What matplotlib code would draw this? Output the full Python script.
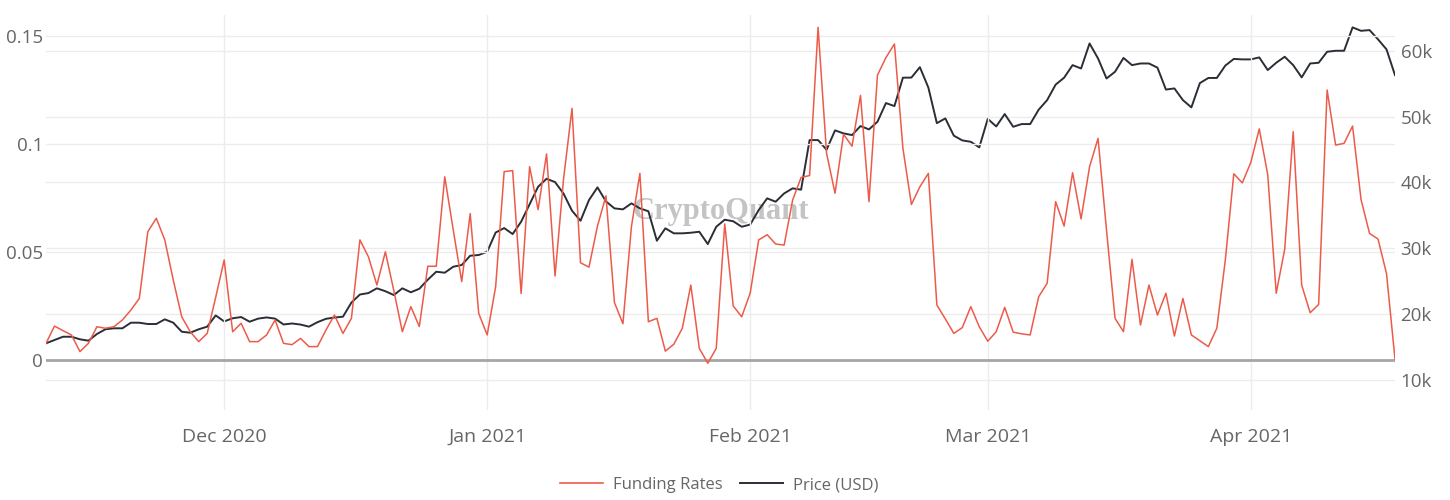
import matplotlib
matplotlib.use("Agg")
import matplotlib.pyplot as plt
import matplotlib.dates as mdates
from matplotlib.lines import Line2D
import pandas as pd

start_date = "2020-11-10"

funding_rates = [
    0.0077, 0.0157, 0.0136, 0.0116, 0.0039, 0.0077, 0.0154, 0.0147, 0.0154, 0.0185,
    0.0231, 0.0285, 0.0594, 0.0656, 0.0556, 0.0370, 0.0200, 0.0131, 0.0085, 0.0123,
    0.0290, 0.0463, 0.0131, 0.0170, 0.0085, 0.0085, 0.0116, 0.0185, 0.0077, 0.0071,
    0.0100, 0.0062, 0.0062, 0.0139, 0.0208, 0.0123, 0.0193, 0.0556, 0.0478, 0.0347,
    0.0501, 0.0320, 0.0131, 0.0247, 0.0155, 0.0434, 0.0434, 0.0848, 0.0602, 0.0363,
    0.0678, 0.0216, 0.0116, 0.0340, 0.0872, 0.0877, 0.0308, 0.0895, 0.0696, 0.0954,
    0.0389, 0.0838, 0.1165, 0.0450, 0.0430, 0.0620, 0.0760, 0.0266, 0.0168, 0.0617,
    0.0864, 0.0177, 0.0193, 0.0041, 0.0073, 0.0147, 0.0347, 0.0054, -0.0015, 0.0054,
    0.0630, 0.0250, 0.0200, 0.0310, 0.0556, 0.0580, 0.0537, 0.0532, 0.0740, 0.0845,
    0.0854, 0.1540, 0.0957, 0.0772, 0.1045, 0.0990, 0.1225, 0.0733, 0.1319, 0.1400,
    0.1463, 0.0980, 0.0720, 0.0802, 0.0864, 0.0255, 0.0190, 0.0123, 0.0150, 0.0247,
    0.0154, 0.0087, 0.0131, 0.0244, 0.0129, 0.0121, 0.0116, 0.0293, 0.0355, 0.0733,
    0.0620, 0.0867, 0.0653, 0.0895, 0.1026, 0.0600, 0.0193, 0.0131, 0.0466, 0.0162,
    0.0347, 0.0208, 0.0309, 0.0111, 0.0285, 0.0116, 0.0089, 0.0062, 0.0147, 0.0463,
    0.0862, 0.0820, 0.0914, 0.1070, 0.0858, 0.0309, 0.0513, 0.1057, 0.0347, 0.0219,
    0.0257, 0.1250, 0.0995, 0.1003, 0.1083, 0.0742, 0.0586, 0.0560, 0.0400, 0.0003,
]

price_usd = [
    15570, 16070, 16570, 16570, 16180, 15970, 16980, 17700, 17850, 17850,
    18700, 18700, 18500, 18500, 19210, 18700, 17330, 17180, 17700, 18100,
    19800, 18900, 19370, 19560, 18850, 19320, 19500, 19320, 18430, 18580,
    18420, 18100, 18780, 19290, 19490, 19610, 21760, 22980, 23200, 23920,
    23480, 22900, 23920, 23320, 23850, 25230, 26440, 26290, 27200, 27460,
    28870, 28980, 29480, 32390, 33070, 32160, 34030, 36690, 39340, 40560,
    40050, 38300, 35700, 34180, 37320, 39250, 37120, 36060, 35910, 36820,
    36060, 35620, 31150, 33030, 32270, 32270, 32360, 32510, 30640, 33270,
    34340, 34100, 33270, 33600, 35800, 37580, 37070, 38330, 39100, 38900,
    46430, 46430, 44960, 47900, 47450, 47190, 48560, 48050, 49210, 52050,
    51590, 55900, 55920, 57500, 54400, 49000, 49720, 47100, 46380, 46170,
    45320, 49650, 48500, 50380, 48450, 48860, 48860, 51040, 52500, 54850,
    55900, 57810, 57300, 61100, 58820, 55780, 56800, 58900, 57810, 58060,
    58060, 57430, 54100, 54270, 52500, 51390, 55080, 55860, 55860, 57740,
    58750, 58680, 58680, 58980, 57060, 58170, 59080, 57810, 55950, 58060,
    58170, 59840, 59990, 59990, 63540, 63020, 63130, 61720, 60200, 56290,
]

month_ticks = ["2020-12-01", "2021-01-01", "2021-02-01", "2021-03-01", "2021-04-01"]
left_ticks = [0, 0.05, 0.1, 0.15]
left_tick_labels = ["0", "0.05", "0.1", "0.15"]
right_ticks = [10000, 20000, 30000, 40000, 50000, 60000]
right_tick_labels = ["10k", "20k", "30k", "40k", "50k", "60k"]
series_names = ["Funding Rates", "Price (USD)"]

dates = pd.date_range(start_date, periods=len(funding_rates), freq="D")

W, H = 1450, 500
fig = plt.figure(figsize=(W / 100, H / 100), dpi=100)
plt.rcParams["font.family"] = ["Open Sans", "DejaVu Sans"]

top_px, bot_px = 15, 410
left_px, right_px = 46, 1395
ax = fig.add_axes([left_px / W, 1 - bot_px / H, (right_px - left_px) / W, (bot_px - top_px) / H])
ax2 = ax.twinx()

txt_color = "#666666"
grid_color = "#ececec"
red = "#ec5b4a"
dark = "#2a2e35"

# left axis: zero at 360px, 0.05 per 108px
lp = 0.05 / 108
ax.set_ylim((360 - bot_px) * lp, (360 - top_px) * lp)
# right axis: 10k at 380px, 10k per 65.86px
rp = 10000 / 65.86
ax2.set_ylim(10000 + (380 - bot_px) * rp, 10000 + (380 - top_px) * rp)

ax.set_xlim(dates[0], dates[-1])

ax.set_yticks(left_ticks)
ax.set_yticklabels(left_tick_labels)
ax2.set_yticks(right_ticks)
ax2.set_yticklabels(right_tick_labels)
ax.set_xticks(pd.to_datetime(month_ticks))
ax.xaxis.set_major_formatter(mdates.DateFormatter("%b %Y"))

for a in (ax, ax2):
    for s in a.spines.values():
        s.set_visible(False)
    a.tick_params(length=0, labelsize=13.5, colors=txt_color)
ax.tick_params(axis="y", pad=2)
ax2.tick_params(axis="y", pad=4)
ax.tick_params(axis="x", pad=13, labelsize=14)

ax.grid(True, color=grid_color, linewidth=1)
ax2.grid(True, axis="y", color=grid_color, linewidth=1)
ax.set_axisbelow(True)
ax2.set_axisbelow(True)

ax.axhline(0, color="#a6a6a6", linewidth=2, zorder=1)

ax.set_zorder(2)
ax.patch.set_visible(False)
ax2.set_zorder(1)

ax2.plot(dates, price_usd, color=dark, linewidth=1.4, zorder=3)
ax.plot(dates, funding_rates, color=red, linewidth=1.1, zorder=3)

fig.text(0.497, 0.578, "CryptoQuant", fontsize=22, family="Liberation Serif",
         fontweight="bold", color="#8a8a8a", alpha=0.5, ha="center", va="center", zorder=0)

handles = [Line2D([], [], color=red, linewidth=1.2), Line2D([], [], color=dark, linewidth=1.4)]
fig.legend(handles, series_names, loc="center", bbox_to_anchor=(0.496, 0.03), ncol=2,
           frameon=False, fontsize=12, labelcolor=txt_color, handlelength=2.6,
           columnspacing=1.0, handletextpad=0.6)

fig.savefig("out.png", dpi=100)
